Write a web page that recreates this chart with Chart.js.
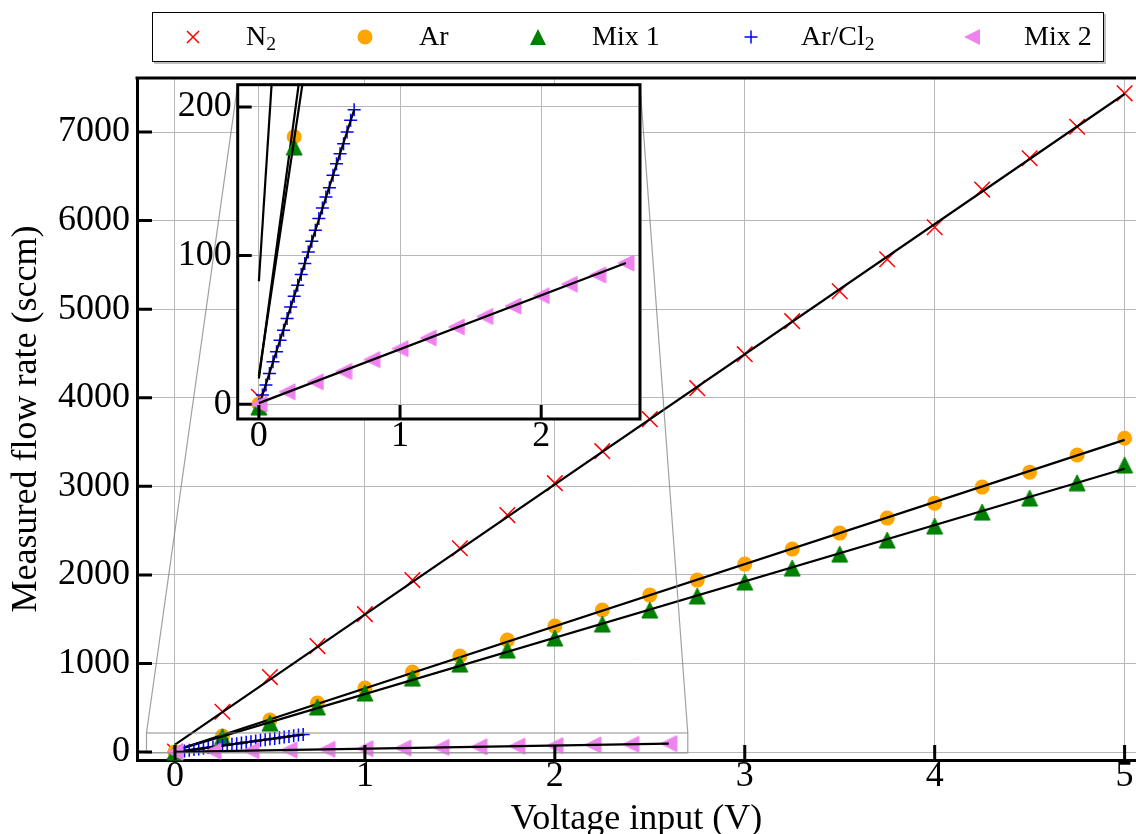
<!DOCTYPE html>
<html>
<head>
<meta charset="utf-8">
<script src="https://cdn.jsdelivr.net/npm/chart.js@4.4.1/dist/chart.umd.min.js"></script>
<style>
html,body{margin:0;padding:0;background:#fff;overflow:hidden;width:1136px;height:834px;}
#wrap{position:relative;width:1136px;height:834px;}
#main{position:absolute;left:0;top:0;}
#inset{position:absolute;left:150px;top:60px;}
#legend{position:absolute;left:152px;top:12px;width:952px;height:50px;border:1.5px solid #000;background:#fff;box-sizing:border-box;font-family:'Liberation Serif','Times New Roman',serif;font-size:28px;color:#000;box-shadow:2px 2px 0 rgba(0,0,0,0.25);}
.mk{position:absolute;top:50%;transform:translate(-50%,-50%);display:block;}
.lt{position:absolute;top:50%;transform:translateY(-52%);white-space:nowrap;line-height:1;}
.lt sub{font-size:70%;vertical-align:-0.22em;line-height:0;}
</style>
</head>
<body>
<div id="wrap">
  <canvas id="main" width="1136" height="834"></canvas>
  <canvas id="inset" width="500" height="410"></canvas>
  <div id="legend">
    <svg class="mk" style="left:40px" width="18" height="18"><path d="M3 3L15 15M15 3L3 15" stroke="#ff0000" stroke-width="1.5" fill="none"/></svg>
    <span class="lt" style="left:93px">N<sub>2</sub></span>
    <svg class="mk" style="left:212px" width="18" height="18"><circle cx="9" cy="9" r="7.5" fill="#ffa500"/></svg>
    <span class="lt" style="left:266px">Ar</span>
    <svg class="mk" style="left:385px" width="18" height="18"><path d="M9 1L1 17L17 17Z" fill="#008000"/></svg>
    <span class="lt" style="left:439px">Mix 1</span>
    <svg class="mk" style="left:598px" width="18" height="18"><path d="M2.5 9L15.5 9M9 2.5L9 15.5" stroke="#0000ff" stroke-width="1.5" fill="none"/></svg>
    <span class="lt" style="left:648px">Ar/Cl<sub>2</sub></span>
    <svg class="mk" style="left:819px" width="18" height="18"><path d="M1 9L17 1L17 17Z" fill="#ee82ee"/></svg>
    <span class="lt" style="left:871px">Mix 2</span>
  </div>
</div>
<script>
// ---------------- data ----------------
const voltageMain = [0,0.25,0.5,0.75,1,1.25,1.5,1.75,2,2.25,2.5,2.75,3,3.25,3.5,3.75,4,4.25,4.5,4.75,5];
const flowN2   = [5,455,846,1196,1557,1941,2300,2675,3036,3397,3758,4108,4492,4865,5203,5564,5925,6350,6704,7060,7437];
const flowAr   = [0,180,361,553,722,903,1084,1264,1422,1603,1772,1941,2122,2291,2472,2641,2810,2991,3160,3353,3542];
const flowMix1 = [-2,173,327,508,666,835,993,1151,1287,1445,1603,1761,1919,2077,2235,2393,2551,2709,2867,3040,3240];
const voltageArCl2 = [0,0.025,0.05,0.075,0.1,0.125,0.15,0.175,0.2,0.225,0.25,0.275,0.3,0.325,0.35,0.375,0.4,0.425,0.45,0.475,0.5,0.525,0.55,0.575,0.6,0.625,0.65,0.675];
const flowArCl2 = [0,6.1,12.8,20.6,28.5,35.2,43.0,49.8,57.6,65.4,72.6,80.0,87.2,94.6,102.4,109.6,117.0,124.9,132.0,139.4,145.7,154.0,161.8,168.6,175.3,183.1,191.0,198.2];
const voltageMix2 = [0,0.2,0.4,0.6,0.8,1.0,1.2,1.4,1.6,1.8,2.0,2.2,2.4,2.6];
const flowMix2 = [0,8.3,15,22,30,37.4,44.6,52,59,66,73,80.7,87,95];

const xTicksMain = [0,1,2,3,4,5];
const yTicksMain = [0,1000,2000,3000,4000,5000,6000,7000];
const xTicksInset = [0,1,2];
const yTicksInset = [0,100,200];
const seriesNames = ['N2','Ar','Mix 1','Ar/Cl2','Mix 2'];

// ---------------- helpers ----------------
const FONT = "'Liberation Serif','Times New Roman',serif";
const GRID = '#b8b8b8';

function pts(xs, ys){ return xs.map((x,i)=>({x:x, y:ys[i]})); }
function fitLine(xs, ys){
  const n = xs.length;
  let sx=0, sy=0, sxx=0, sxy=0;
  for (let i=0;i<n;i++){ sx+=xs[i]; sy+=ys[i]; sxx+=xs[i]*xs[i]; sxy+=xs[i]*ys[i]; }
  const m = (n*sxy - sx*sy)/(n*sxx - sx*sx);
  const b = (sy - m*sx)/n;
  const x0 = Math.min(...xs), x1 = Math.max(...xs);
  return [{x:x0, y:b+m*x0}, {x:x1, y:b+m*x1}];
}
function triImg(color, dir, size){
  const s = size + 2;
  const c = document.createElement('canvas');
  c.width = s; c.height = s;
  const g = c.getContext('2d');
  const h = size/2, cx = s/2, cy = s/2;
  g.beginPath();
  if (dir === 'up'){ g.moveTo(cx, cy-h); g.lineTo(cx-h, cy+h); g.lineTo(cx+h, cy+h); }
  else { g.moveTo(cx-h, cy); g.lineTo(cx+h, cy-h); g.lineTo(cx+h, cy+h); }
  g.closePath();
  g.fillStyle = color; g.fill();
  g.lineWidth = 1; g.strokeStyle = color; g.stroke();
  return c;
}
const triUp = triImg('#008000','up',16);
const triLeft = triImg('#ee82ee','left',16);

function buildDatasets(){
  const series = [
    {name:seriesNames[0], xs:voltageMain, ys:flowN2, style:'crossRot', r:11, color:'#ff0000', bw:1.5},
    {name:seriesNames[1], xs:voltageMain, ys:flowAr, style:'circle', r:7.5, color:'#ffa500', bw:0},
    {name:seriesNames[2], xs:voltageMain, ys:flowMix1, style:triUp, r:8, color:'#008000', bw:0},
    {name:seriesNames[3], xs:voltageArCl2, ys:flowArCl2, style:'cross', r:6.5, color:'#0000ff', bw:1.5},
    {name:seriesNames[4], xs:voltageMix2, ys:flowMix2, style:triLeft, r:8, color:'#ee82ee', bw:0}
  ];
  const ds = [];
  let order = 20;
  series.forEach(s=>{
    ds.push({label:s.name, data:pts(s.xs,s.ys), showLine:false, pointStyle:s.style, pointRadius:s.r,
      pointBackgroundColor:s.color, pointBorderColor:s.color, pointBorderWidth:s.bw, order:order--, clip:1});
    ds.push({label:s.name+' fit', data:fitLine(s.xs,s.ys), showLine:true, pointRadius:0, borderColor:'#000',
      borderWidth:2.2, fill:false, order:order--, clip:1});
  });
  return ds;
}

function inwardTicks(chart, xTicks, yTicks, len, w){
  const ctx = chart.ctx, a = chart.chartArea;
  const xs = chart.scales.x, ys = chart.scales.y;
  ctx.save();
  ctx.strokeStyle = '#000'; ctx.lineWidth = w;
  ctx.beginPath();
  xTicks.forEach(v=>{ const p = xs.getPixelForValue(v); ctx.moveTo(p, a.bottom); ctx.lineTo(p, a.bottom-len); });
  yTicks.forEach(v=>{ const p = ys.getPixelForValue(v); ctx.moveTo(a.left, p); ctx.lineTo(a.left+len, p); });
  ctx.stroke();
  ctx.restore();
}

// ---------------- inset ----------------
const INSET_LEFT = 150, INSET_TOP = 60;
const insetRange = {x0:-0.15, x1:2.70, y0:-10, y1:215};

const insetDecor = {
  id:'insetDecor',
  beforeDraw(chart){
    const ctx = chart.ctx, a = chart.chartArea;
    ctx.save(); ctx.fillStyle = '#fff';
    ctx.fillRect(a.left, a.top, a.right-a.left, a.bottom-a.top);
    ctx.restore();
  },
  afterDraw(chart){
    const ctx = chart.ctx, a = chart.chartArea;
    inwardTicks(chart, xTicksInset, yTicksInset, 14, 3);
    ctx.save();
    ctx.strokeStyle = '#000'; ctx.lineWidth = 3;
    ctx.strokeRect(a.left, a.top, a.right-a.left, a.bottom-a.top);
    ctx.restore();
  }
};

const insetChart = new Chart(document.getElementById('inset'), {
  type:'scatter',
  data:{datasets:buildDatasets()},
  options:{
    responsive:false, animation:false, events:[],
    layout:{autoPadding:false, padding:{top:24.7, right:10, left:0, bottom:0}},
    plugins:{legend:{display:false}, tooltip:{enabled:false}},
    scales:{
      x:{type:'linear', min:insetRange.x0, max:insetRange.x1,
        afterBuildTicks:s=>{ s.ticks = xTicksInset.map(v=>({value:v})); },
        afterFit:s=>{ s.height = 51; s.paddingLeft = 0; s.paddingRight = 0; },
        ticks:{autoSkip:false, maxRotation:0, padding:0, color:'#000', font:{family:FONT, size:36, lineHeight:1}, callback:v=>String(v)},
        grid:{color:GRID, lineWidth:1, drawTicks:false},
        border:{display:false}},
      y:{type:'linear', min:insetRange.y0, max:insetRange.y1,
        afterBuildTicks:s=>{ s.ticks = yTicksInset.map(v=>({value:v})); },
        afterFit:s=>{ s.width = 87.7; s.paddingTop = 0; s.paddingBottom = 0; },
        ticks:{autoSkip:false, padding:6, color:'#000', font:{family:FONT, size:36, lineHeight:1}, callback:v=>String(v)},
        grid:{color:GRID, lineWidth:1, drawTicks:false},
        border:{display:false}}
    }
  },
  plugins:[insetDecor]
});

// ---------------- main ----------------
const mainDecor = {
  id:'mainDecor',
  afterDatasetsDraw(chart){
    const ctx = chart.ctx, xs = chart.scales.x, ys = chart.scales.y;
    const l = xs.getPixelForValue(insetRange.x0), r = xs.getPixelForValue(insetRange.x1);
    const t = ys.getPixelForValue(insetRange.y1), b = ys.getPixelForValue(insetRange.y0);
    const ia = insetChart.chartArea;
    ctx.save();
    ctx.strokeStyle = 'rgba(128,128,128,0.75)'; ctx.lineWidth = 1.2;
    ctx.strokeRect(l, t, r-l, b-t);
    ctx.beginPath();
    ctx.moveTo(l, t); ctx.lineTo(INSET_LEFT+ia.left, INSET_TOP+ia.top);
    ctx.moveTo(r, t); ctx.lineTo(INSET_LEFT+ia.right, INSET_TOP+ia.top);
    ctx.stroke();
    ctx.restore();
  },
  afterDraw(chart){
    const ctx = chart.ctx, a = chart.chartArea;
    inwardTicks(chart, xTicksMain, yTicksMain, 15, 3);
    ctx.save();
    ctx.strokeStyle = '#000'; ctx.lineWidth = 3;
    ctx.beginPath(); ctx.moveTo(a.left-1.5, a.top); ctx.lineTo(a.right, a.top); ctx.stroke();
    ctx.restore();
  }
};

new Chart(document.getElementById('main'), {
  type:'scatter',
  data:{datasets:buildDatasets()},
  options:{
    responsive:false, animation:false, events:[],
    layout:{autoPadding:false, padding:{top:78, right:0, left:0, bottom:0}},
    plugins:{legend:{display:false}, tooltip:{enabled:false}},
    scales:{
      x:{type:'linear', min:-0.2, max:5.06,
        afterBuildTicks:s=>{ s.ticks = xTicksMain.map(v=>({value:v})); },
        afterFit:s=>{ s.height = 74; s.paddingLeft = 0; s.paddingRight = 0; },
        ticks:{autoSkip:false, maxRotation:0, padding:-1, color:'#000', font:{family:FONT, size:36, lineHeight:1}, callback:v=>String(v)},
        grid:{color:GRID, lineWidth:1, drawTicks:false},
        border:{display:true, color:'#000', width:3},
        title:{display:true, text:'Voltage input (V)', color:'#000', font:{family:FONT, size:36, lineHeight:1}, padding:{top:0, bottom:-4}}},
      y:{type:'linear', min:-90, max:7610,
        afterBuildTicks:s=>{ s.ticks = yTicksMain.map(v=>({value:v})); },
        afterFit:s=>{ s.width = 137; s.paddingTop = 0; s.paddingBottom = 0; },
        ticks:{autoSkip:false, padding:7, color:'#000', font:{family:FONT, size:36, lineHeight:1}, callback:v=>String(v)},
        grid:{color:GRID, lineWidth:1, drawTicks:false},
        border:{display:true, color:'#000', width:3},
        title:{display:true, text:'Measured flow rate (sccm)', color:'#000', font:{family:FONT, size:36, lineHeight:1}, padding:{top:9, bottom:0}}}
    }
  },
  plugins:[mainDecor]
});
</script>
</body>
</html>
